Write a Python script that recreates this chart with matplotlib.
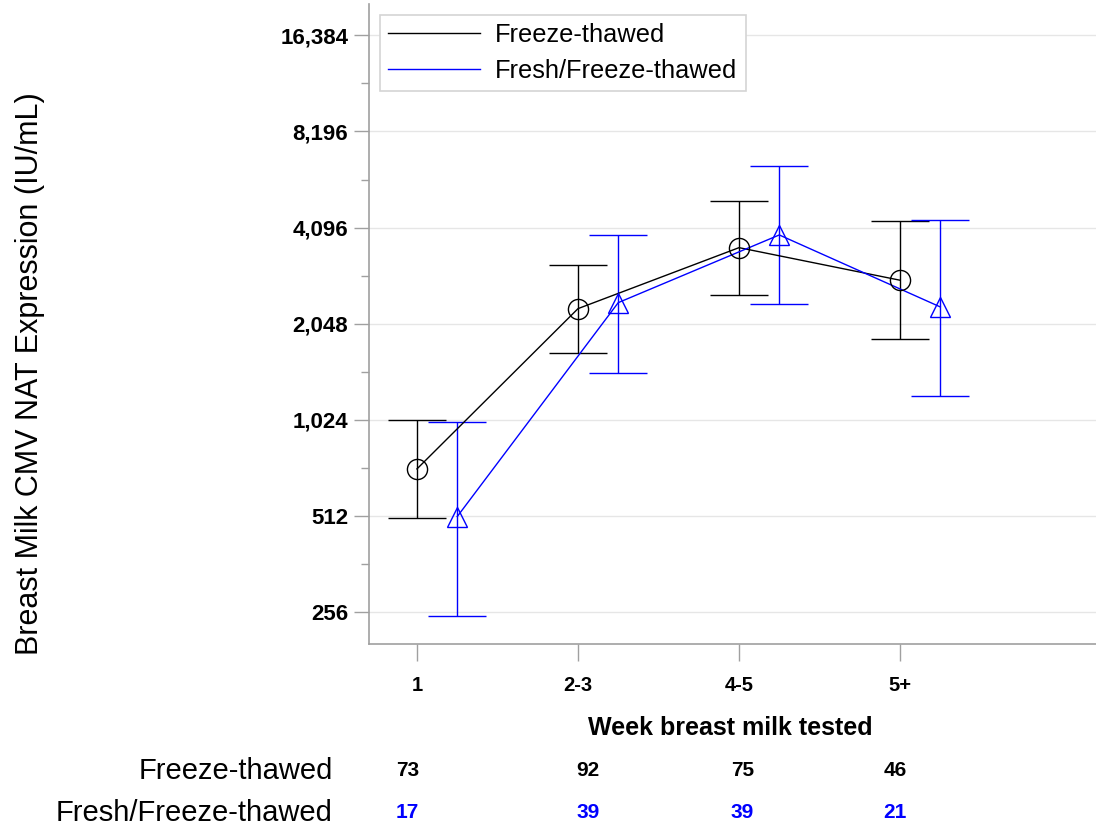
import numpy as np
import matplotlib
matplotlib.use('Agg')
import matplotlib.pyplot as plt
import matplotlib.transforms as mtransforms

plt.rcParams['font.family'] = ['Liberation Sans', 'DejaVu Sans']

# categories and counts
semaines = ['1', '2-3', '4-5', '5+']
n_congele = [73, 92, 75, 46]
n_frais = [17, 39, 39, 21]

# geometric means with 95% CI (IU/mL)
congele_moy = [718, 2282, 3543, 2801]
congele_bas = [504, 1662, 2525, 1834]
congele_haut = [1025, 3134, 4963, 4287]

frais_moy = [509, 2383, 3883, 2310]
frais_bas = [249, 1432, 2356, 1216]
frais_haut = [1006, 3883, 6388, 4336]

# y tick values and labels (label "8,196" as in the original)
yticks = [256, 512, 1024, 2048, 4096, 8192, 16384]
yticklabels = ['256', '512', '1,024', '2,048', '4,096', '8,196', '16,384']

# x position of count text for each column
count_x = [0.94, 2.06, 3.02, 3.97]

bleu = '#0000ff'

fig = plt.figure(figsize=(10.96, 8.32), dpi=100)
ax = fig.add_axes([369 / 1096, 1 - 644 / 832, 727 / 1096, 640 / 832])

x = np.arange(1, len(semaines) + 1)
x_frais = x + 0.25

def barres(xp, moy, bas, haut, couleur, marqueur, label):
    moy = np.array(moy)
    err = [moy - np.array(bas), np.array(haut) - moy]
    ax.errorbar(xp, moy, yerr=err, fmt='none', ecolor=couleur,
                elinewidth=1, capsize=21, capthick=1, zorder=3)
    ax.plot(xp, moy, '-', color=couleur, lw=1, zorder=4, label=label)
    ax.plot(xp, moy, marqueur, color=couleur, mfc='none', mec=couleur,
            ms=14.5, mew=1, zorder=5)

barres(x, congele_moy, congele_bas, congele_haut, 'black', 'o', 'Freeze-thawed')
barres(x_frais, frais_moy, frais_bas, frais_haut, bleu, '^', 'Fresh/Freeze-thawed')

ax.set_yscale('log', base=2)

ax.set_yticks(yticks)
ax.set_yticklabels(yticklabels, fontsize=16, fontweight='bold')
mineurs = [v * np.sqrt(2) for v in yticks[:-1]]
ax.set_yticks(mineurs, minor=True)
ax.yaxis.set_minor_formatter(matplotlib.ticker.NullFormatter())

ax.set_xticks(x)
ax.set_xticklabels(semaines, fontsize=14.5, fontweight='bold')

# limits after the ticks so they are not widened
ax.set_ylim(203, 20550)
ax.set_xlim(0.702, 5.217)

ax.tick_params(axis='y', which='major', length=11, width=1, color='#a0a0a0', pad=4)
ax.tick_params(axis='y', which='minor', length=6, width=1, color='#a0a0a0')
ax.tick_params(axis='x', which='major', length=12, width=1, color='#a0a0a0', pad=11)

ax.grid(axis='y', which='major', color='#e6e6e6', lw=1, zorder=0)
ax.set_axisbelow(True)

for s in ['top', 'right']:
    ax.spines[s].set_visible(False)
for s in ['left', 'bottom']:
    ax.spines[s].set_color('#a0a0a0')
    ax.spines[s].set_linewidth(1.2)

leg = ax.legend(loc='upper left', bbox_to_anchor=(11 / 727, 1 - 11 / 640),
                fontsize=18.3, handlelength=3.6, handletextpad=0.6,
                labelspacing=0.44, borderpad=0.33, borderaxespad=0,
                fancybox=False, framealpha=1)
leg.get_frame().set_edgecolor('#d4d4d4')
leg.get_frame().set_linewidth(1.2)

# y label
fig.text(30 / 1096, 1 - 374 / 832, 'Breast Milk CMV NAT Expression (IU/mL)',
         rotation=90, ha='center', va='center', fontsize=22)

# x label
fig.text(730 / 1096, 1 - 728 / 832, 'Week breast milk tested',
         ha='center', va='center', fontsize=18, fontweight='bold')

# table of counts under the axis
trans = mtransforms.blended_transform_factory(ax.transData, fig.transFigure)
lignes = [('Freeze-thawed', n_congele, 'black', 771),
          ('Fresh/Freeze-thawed', n_frais, bleu, 813)]
for nom, valeurs, couleur, ypix in lignes:
    yf = 1 - ypix / 832
    fig.text(333 / 1096, yf, nom, ha='right', va='center', fontsize=21)
    for xc, v in zip(count_x, valeurs):
        fig.text(xc, yf, str(v), transform=trans, ha='center', va='center',
                 fontsize=15, fontweight='bold', color=couleur)

plt.savefig('out.png', dpi=100)
